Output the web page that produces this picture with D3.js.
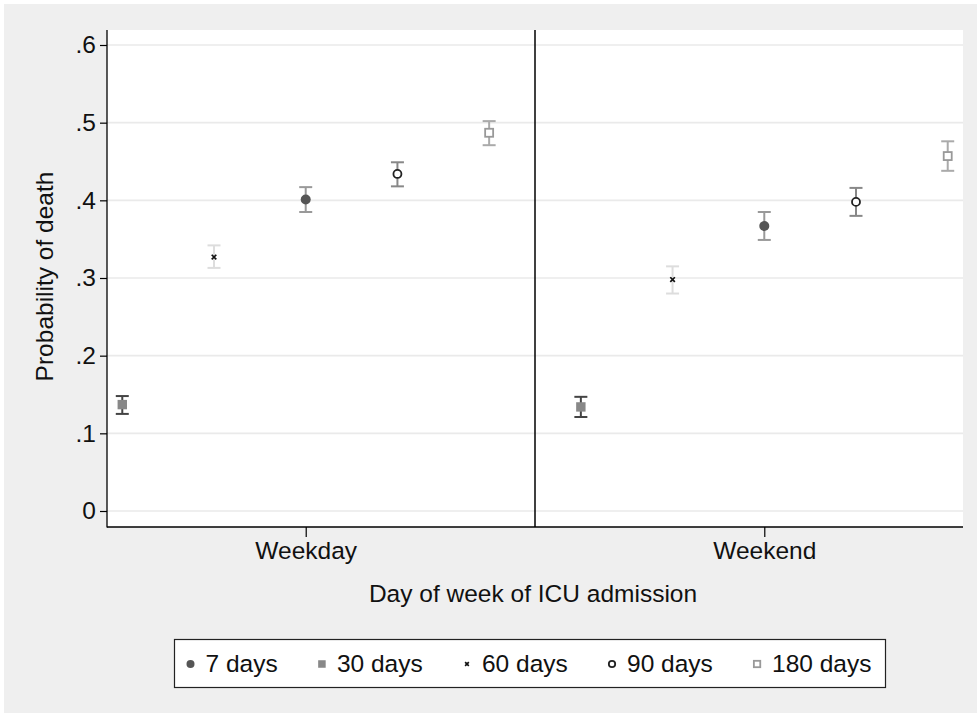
<!DOCTYPE html>
<html><head><meta charset="utf-8">
<script src="https://cdn.jsdelivr.net/npm/d3@7"></script>
<style>html,body{margin:0;padding:0;background:#fff;}svg{display:block;font-family:"Liberation Sans",Arial,sans-serif;}</style>
</head><body>
<script>
const groups = ["Weekday", "Weekend"];
const slotOrder = ["30 days", "60 days", "7 days", "90 days", "180 days"];
const series = ["7 days", "30 days", "60 days", "90 days", "180 days"];
const weekdayEst = [0.401, 0.137, 0.327, 0.434, 0.487];
const weekdayLo  = [0.385, 0.125, 0.313, 0.418, 0.471];
const weekdayHi  = [0.417, 0.148, 0.342, 0.449, 0.502];
const weekendEst = [0.367, 0.134, 0.298, 0.398, 0.457];
const weekendLo  = [0.349, 0.121, 0.280, 0.380, 0.438];
const weekendHi  = [0.385, 0.147, 0.315, 0.416, 0.476];
const yTicks = [0, 0.1, 0.2, 0.3, 0.4, 0.5, 0.6];
const yTickLabels = ["0", ".1", ".2", ".3", ".4", ".5", ".6"];
const yTitle = "Probability of death";
const xTitle = "Day of week of ICU admission";

const W = 977, H = 713, FS = 24.5;
const svg = d3.select("body").append("svg").attr("width", W).attr("height", H);
svg.append("rect").attr("x", 4).attr("y", 4).attr("width", W - 4).attr("height", H - 4).attr("fill", "#efefef");

const L = 107, R = 963, T = 30, B = 527;
const nSlots = slotOrder.length;
const x = d3.scaleLinear().domain([1 - 1/6, 2 * nSlots + 1/6]).range([L, R]);
const y = d3.scaleLinear().domain([0, 0.6]).range([511, 45]);

svg.append("rect").attr("x", L).attr("y", T).attr("width", R - L).attr("height", B - T).attr("fill", "#fff");

// grid
svg.append("g").selectAll("line").data(yTicks).join("line")
  .attr("x1", L).attr("x2", R).attr("y1", d => y(d)).attr("y2", d => y(d))
  .attr("stroke", "#eaeaea").attr("stroke-width", 1.6);

// y axis
const yAxis = d3.axisLeft(y).tickValues(yTicks).tickFormat((d, i) => yTickLabels[i]).tickSize(7).tickPadding(4);
const gy = svg.append("g").attr("transform", `translate(${L},0)`).call(yAxis);
gy.select(".domain").remove();
gy.selectAll(".tick line").attr("stroke", "#000").attr("stroke-width", 1.2);
gy.selectAll(".tick text").attr("font-size", FS).attr("fill", "#111").attr("font-family", "Liberation Sans, Arial, sans-serif");

// x axis
const groupCenter = (gi) => gi * nSlots + (nSlots + 1) / 2;
const xAxis = d3.axisBottom(x).tickValues(groups.map((g, i) => groupCenter(i))).tickFormat((d, i) => groups[i]).tickSize(10).tickPadding(5);
const gx = svg.append("g").attr("transform", `translate(0,${B})`).call(xAxis);
gx.select(".domain").remove();
gx.selectAll(".tick line").attr("stroke", "#000").attr("stroke-width", 1.2);
gx.selectAll(".tick text").attr("font-size", FS).attr("fill", "#111").attr("font-family", "Liberation Sans, Arial, sans-serif");

// axis lines
svg.append("line").attr("x1", L).attr("x2", L).attr("y1", T).attr("y2", B + 0.5).attr("stroke", "#000").attr("stroke-width", 1.3);
svg.append("line").attr("x1", L).attr("x2", R).attr("y1", B).attr("y2", B).attr("stroke", "#000").attr("stroke-width", 1.3);
// divider
svg.append("line").attr("x1", x(nSlots + 0.5)).attr("x2", x(nSlots + 0.5)).attr("y1", T).attr("y2", B)
  .attr("stroke", "#000").attr("stroke-width", 1.5);

// titles
svg.append("text").attr("transform", `translate(53,${(T + B) / 2 - 2}) rotate(-90)`).attr("text-anchor", "middle")
  .attr("font-size", FS).attr("fill", "#111").text(yTitle);
svg.append("text").attr("x", 533).attr("y", 602).attr("text-anchor", "middle")
  .attr("font-size", FS).attr("fill", "#111").text(xTitle);

const style = {
  "7 days":   {shape: "circle", fill: "#555", stroke: "none", ci: "#999"},
  "30 days":  {shape: "square", fill: "#888", stroke: "none", ci: "#444"},
  "60 days":  {shape: "cross", fill: "none", stroke: "#111", ci: "#ddd"},
  "90 days":  {shape: "ocircle", fill: "none", stroke: "#222", ci: "#888"},
  "180 days": {shape: "osquare", fill: "none", stroke: "#999", ci: "#aaa"}
};

function drawMarker(g, cx, cy, s, scale) {
  scale = scale || 1;
  if (s.shape === "circle") g.append("circle").attr("cx", cx).attr("cy", cy).attr("r", 5 * scale).attr("fill", s.fill);
  else if (s.shape === "square") g.append("rect").attr("x", cx - 4.7 * scale).attr("y", cy - 4.7 * scale).attr("width", 9.4 * scale).attr("height", 9.4 * scale).attr("fill", s.fill);
  else if (s.shape === "cross") {
    const k = 2.3 * scale;
    g.append("path").attr("d", `M${cx - k},${cy - k}L${cx + k},${cy + k}M${cx - k},${cy + k}L${cx + k},${cy - k}`)
      .attr("stroke", s.stroke).attr("stroke-width", 1.7).attr("fill", "none");
  }
  else if (s.shape === "ocircle") g.append("circle").attr("cx", cx).attr("cy", cy).attr("r", 4 * scale).attr("fill", "#fff").attr("stroke", s.stroke).attr("stroke-width", 1.8);
  else if (s.shape === "osquare") g.append("rect").attr("x", cx - 4 * scale).attr("y", cy - 4 * scale).attr("width", 8 * scale).attr("height", 8 * scale).attr("fill", "#fff").attr("stroke", s.stroke).attr("stroke-width", 1.8);
}

const est = [weekdayEst, weekendEst], lo = [weekdayLo, weekendLo], hi = [weekdayHi, weekendHi];
const marks = svg.append("g");
groups.forEach((g, gi) => {
  series.forEach((sname, si) => {
    const s = style[sname];
    const cx = x(gi * nSlots + slotOrder.indexOf(sname) + 1);
    const eg = marks.append("g");
    const cap = 6.5;
    eg.append("line").attr("x1", cx).attr("x2", cx).attr("y1", y(lo[gi][si])).attr("y2", y(hi[gi][si])).attr("stroke", s.ci).attr("stroke-width", 2);
    eg.append("line").attr("x1", cx - cap).attr("x2", cx + cap).attr("y1", y(lo[gi][si])).attr("y2", y(lo[gi][si])).attr("stroke", s.ci).attr("stroke-width", 2);
    eg.append("line").attr("x1", cx - cap).attr("x2", cx + cap).attr("y1", y(hi[gi][si])).attr("y2", y(hi[gi][si])).attr("stroke", s.ci).attr("stroke-width", 2);
    drawMarker(eg, cx, y(est[gi][si]), s);
  });
});

// legend
const lg = svg.append("g");
const boxL = 174.5, boxR = 885.5;
lg.append("rect").attr("x", boxL).attr("y", 639.5).attr("width", boxR - boxL).attr("height", 48).attr("fill", "#fff").attr("stroke", "#222").attr("stroke-width", 1.2);
const texts = series.map(sname => lg.append("text").attr("y", 672).attr("font-size", FS).attr("fill", "#111").text(sname));
const widths = texts.map(t => t.node().getComputedTextLength());
const padL = 16, symGap = 15, padR = 14;
const totalText = d3.sum(widths);
const itemGap = ((boxR - boxL) - padL - padR - totalText - series.length * symGap) / (series.length - 1);
let cursor = boxL + padL;
series.forEach((sname, i) => {
  drawMarker(lg, cursor, 664, style[sname], 0.8);
  texts[i].attr("x", cursor + symGap);
  cursor += symGap + widths[i] + itemGap;
});
</script>
</body></html>
